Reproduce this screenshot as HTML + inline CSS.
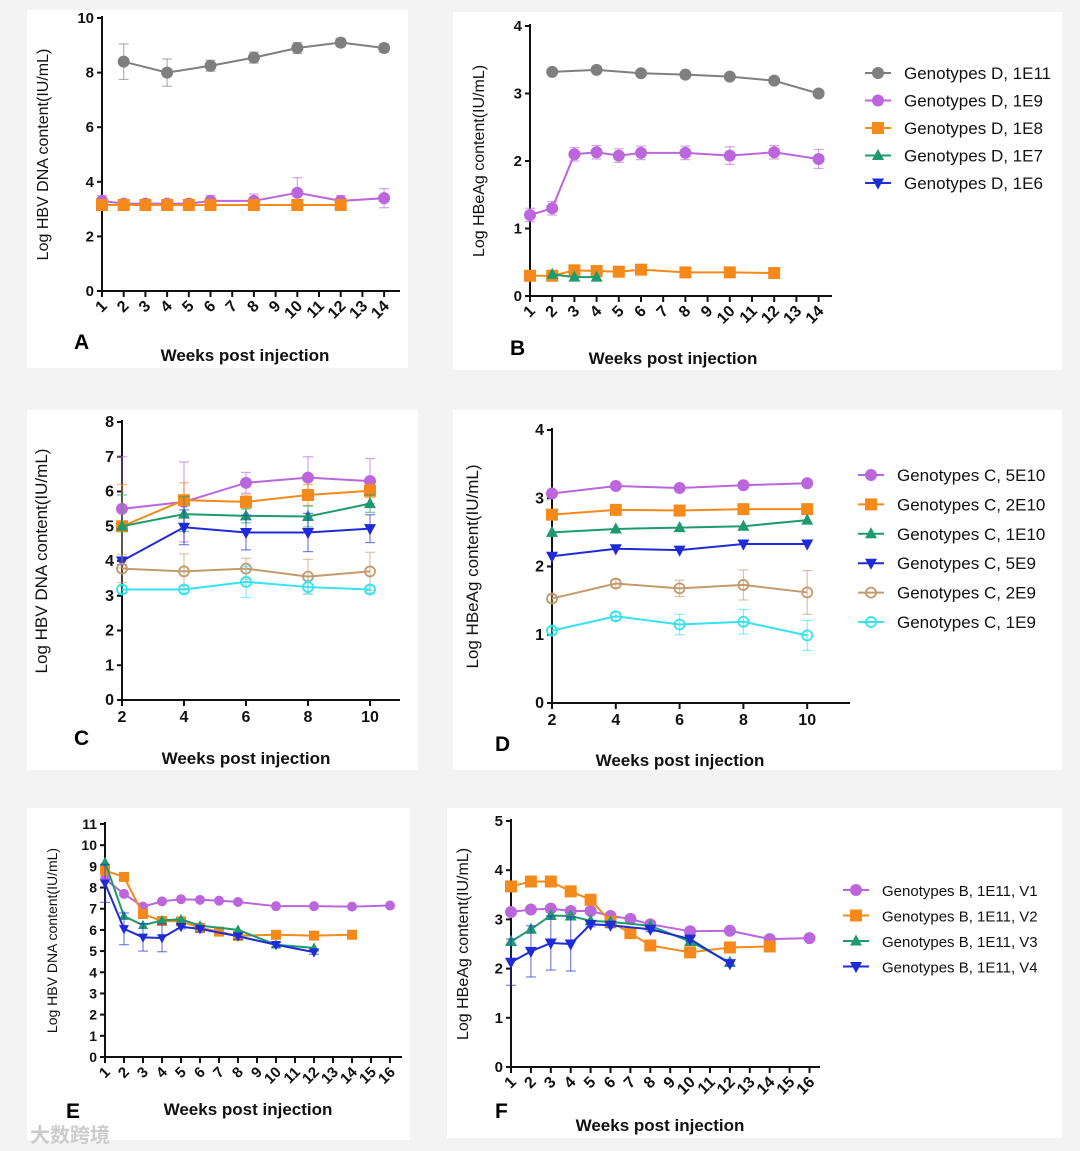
<!DOCTYPE html>
<html><head><meta charset="utf-8"><style>
body{margin:0;background:#f3f3f3;}
svg{display:block;font-family:"Liberation Sans","Noto Sans CJK SC",sans-serif;}
</style></head><body>
<svg id="fig" width="1080" height="1151" viewBox="0 0 1080 1151" xmlns="http://www.w3.org/2000/svg">
<rect x="0" y="0" width="1080" height="1151" fill="#f3f3f3"/>
<rect x="27" y="10" width="381" height="358" fill="#fff"/>
<rect x="453" y="12" width="609" height="358" fill="#fff"/>
<rect x="27" y="410" width="391" height="360" fill="#fff"/>
<rect x="453" y="410" width="609" height="360" fill="#fff"/>
<rect x="27" y="808" width="383" height="332" fill="#fff"/>
<rect x="447" y="808" width="615" height="330" fill="#fff"/>
<text x="30" y="1142" font-size="20" fill="#cccccc" font-weight="bold">大数跨境</text>
</svg>
<script>
// Panel A: HBV DNA, genotype D
const aWeeks1E11=[2,4,6,8,10,12,14];
const aVals1E11=[8.4,8.0,8.25,8.55,8.9,9.1,8.9];
const aErr1E11=[0.65,0.5,0.2,0.2,0.2,0.15,0.15];
const aWeeks1E9=[1,2,3,4,5,6,8,10,12,14];
const aVals1E9=[3.3,3.2,3.2,3.2,3.2,3.3,3.3,3.6,3.3,3.4];
const aErr1E9=[0.2,0.1,0.1,0.1,0.1,0.2,0.25,0.55,0.2,0.35];
const aWeeks1E8=[1,2,3,4,5,6,8,10,12];
const aVals1E8=[3.15,3.15,3.15,3.15,3.15,3.15,3.15,3.15,3.15];
// Panel B: HBeAg, genotype D
const bWeeks1E11=[2,4,6,8,10,12,14];
const bVals1E11=[3.32,3.35,3.3,3.28,3.25,3.19,3.0];
const bWeeks1E9=[1,2,3,4,5,6,8,10,12,14];
const bVals1E9=[1.2,1.3,2.1,2.13,2.08,2.12,2.12,2.08,2.13,2.03];
const bErr1E9=[0.1,0.1,0.1,0.1,0.1,0.1,0.1,0.13,0.1,0.14];
const bWeeks1E8=[1,2,3,4,5,6,8,10,12];
const bVals1E8=[0.3,0.3,0.38,0.37,0.36,0.39,0.35,0.35,0.34];
const bWeeks1E7=[2,3,4];
const bVals1E7=[0.32,0.28,0.28];
// Panel C: HBV DNA, genotype C
const cWeeks=[2,4,6,8,10];
const c5E10=[5.5,5.7,6.25,6.4,6.3];
const c5E10Err=[1.5,1.15,0.3,0.6,0.65];
const c2E10=[5.0,5.75,5.7,5.9,6.02];
const c2E10Err=[1.2,0.5,0.2,0.3,0.2];
const c1E10=[5.0,5.35,5.3,5.28,5.65];
const c1E10Err=[0.9,0.5,0.2,0.3,0.25];
const c5E9=[4.0,4.97,4.82,4.82,4.93];
const c5E9Err=[0.1,0.5,0.5,0.55,0.4];
const c2E9=[3.78,3.7,3.78,3.55,3.7];
const c2E9Err=[0.4,0.5,0.3,0.5,0.55];
const c1E9=[3.18,3.18,3.4,3.25,3.18];
const c1E9Err=[0.1,0.1,0.45,0.2,0.1];
// Panel D: HBeAg, genotype C
const dWeeks=[2,4,6,8,10];
const d5E10=[3.07,3.18,3.15,3.19,3.22];
const d2E10=[2.76,2.83,2.82,2.84,2.84];
const d1E10=[2.5,2.55,2.57,2.59,2.68];
const d5E9=[2.15,2.26,2.24,2.33,2.33];
const d2E9=[1.53,1.75,1.68,1.73,1.62];
const d2E9Err=[0.05,0.06,0.12,0.22,0.32];
const d1E9=[1.06,1.27,1.15,1.19,0.99];
const d1E9Err=[0.05,0.06,0.15,0.18,0.22];
// Panel E: HBV DNA, genotype B
const eWeeksV1=[1,2,3,4,5,6,7,8,10,12,14,16];
const eV1=[8.4,7.7,7.1,7.35,7.45,7.42,7.38,7.32,7.12,7.12,7.1,7.15];
const eWeeksV2=[1,2,3,4,5,6,7,8,10,12,14];
const eV2=[8.8,8.5,6.75,6.42,6.4,6.1,5.92,5.72,5.77,5.73,5.77];
const eWeeksV3=[1,2,3,4,5,6,8,10,12];
const eV3=[9.2,6.65,6.22,6.45,6.5,6.2,6.0,5.3,5.15];
const eWeeksV4=[1,2,3,4,5,6,8,10,12];
const eV4=[8.2,6.05,5.65,5.62,6.15,6.05,5.7,5.3,4.95];
const eV4Err=[0.9,0.75,0.65,0.65,0.1,0.15,0.15,0.1,0.1];
// Panel F: HBeAg, genotype B
const fWeeksV1=[1,2,3,4,5,6,7,8,10,12,14,16];
const fV1=[3.15,3.2,3.22,3.17,3.17,3.07,3.01,2.9,2.76,2.77,2.6,2.62];
const fWeeksV2=[1,2,3,4,5,6,7,8,10,12,14];
const fV2=[3.67,3.77,3.77,3.57,3.4,2.95,2.72,2.47,2.33,2.43,2.45];
const fWeeksV3=[1,2,3,4,5,6,8,10,12];
const fV3=[2.55,2.8,3.08,3.07,2.97,2.95,2.87,2.55,2.13];
const fWeeksV4=[1,2,3,4,5,6,8,10,12];
const fV4=[2.13,2.35,2.52,2.5,2.9,2.88,2.8,2.6,2.1];
const fV4Err=[0.47,0.52,0.55,0.55,0.05,0.05,0.05,0.05,0.05];

const NS='http://www.w3.org/2000/svg';
const svg=document.getElementById('fig');
const COL={gray:'#7f7f7f',purple:'#bb66dd',orange:'#f5891a',green:'#1e9a6e',blue:'#1f2bd6',brown:'#c49a6c',cyan:'#33e3ee'};
function el(tag,attrs,parent){const e=document.createElementNS(NS,tag);for(const k in attrs)e.setAttribute(k,attrs[k]);(parent||svg).appendChild(e);return e;}
function marker(g,shape,x,y,c,s){
  let m;
  if(shape==='circle')m=el('circle',{cx:x,cy:y,r:s,fill:c},g);
  else if(shape==='ocircle')m=el('circle',{cx:x,cy:y,r:s-1,fill:'none',stroke:c,'stroke-width':1.8},g);
  else if(shape==='square')m=el('rect',{x:x-s,y:y-s,width:2*s,height:2*s,fill:c},g);
  else if(shape==='tri')m=el('polygon',{points:`${x},${y-s*1.1} ${x-s},${y+s*0.75} ${x+s},${y+s*0.75}`,fill:c},g);
  else m=el('polygon',{points:`${x},${y+s*1.1} ${x-s},${y-s*0.75} ${x+s},${y-s*0.75}`,fill:c},g);
  
  
}
function panel(p){
  const g=el('g',{});
  
  
  const X=w=>p.x0+(w-p.w0)*p.dx;
  const Y=v=>p.y0-(v)*(p.y0-p.yTop)/p.yMax;
  const ya=el('line',{x1:p.x0,y1:p.yTop-2,x2:p.x0,y2:p.y0,stroke:'#111','stroke-width':2},g);
  
  const xa=el('line',{x1:p.x0,y1:p.y0,x2:p.xEnd,y2:p.y0,stroke:'#111','stroke-width':2},g);
  
  for(let v=0;v<=p.yMax;v+=p.yStep){
    el('line',{x1:p.x0-5,y1:Y(v),x2:p.x0,y2:Y(v),stroke:'#111','stroke-width':2},g);
    const t=el('text',{x:p.x0-8,y:Y(v)+5,'text-anchor':'end','font-size':p.fs,'font-weight':'bold',fill:'#111'},g);
    t.textContent=v;
  }
  for(const w of p.xticks){
    el('line',{x1:X(w),y1:p.y0,x2:X(w),y2:p.y0+6,stroke:'#111','stroke-width':2},g);
    let t;
    if(p.rot){t=el('text',{x:X(w)+6,y:p.y0+16,'text-anchor':'end','font-size':p.fs+1,'font-weight':'bold',fill:'#111',transform:`rotate(-45 ${X(w)+6} ${p.y0+16})`},g);}
    else{t=el('text',{x:X(w),y:p.y0+22,'text-anchor':'middle','font-size':p.fs,'font-weight':'bold',fill:'#111'},g);}
    t.textContent=w;
  }
  const yt=el('text',{x:0,y:0,'text-anchor':'middle','font-size':p.yfs,fill:'#111',transform:`translate(${p.ytx},${(p.y0+p.yTop)/2}) rotate(-90)`},g);
  yt.textContent=p.ytitle;
  const xt=el('text',{x:p.xtx,y:p.xty,'text-anchor':'middle','font-size':17,'font-weight':'bold',fill:'#111'},g);
  xt.textContent='Weeks post injection';
  const lt=el('text',{x:p.lx,y:p.ly,'font-size':21,'font-weight':'bold',fill:'#000'},g);
  lt.textContent=p.id.toUpperCase();
  for(const s of p.series){
    const sg=el('g',{},g);
    
    
    const c=COL[s.color];
    if(s.err)s.w.forEach((w,i)=>{const e=s.err[i];if(!e)return;
      el('line',{x1:X(w),y1:Y(s.v[i]-e),x2:X(w),y2:Y(s.v[i]+e),stroke:c,'stroke-width':1.2,opacity:0.6},sg);
      el('line',{x1:X(w)-5,y1:Y(s.v[i]-e),x2:X(w)+5,y2:Y(s.v[i]-e),stroke:c,'stroke-width':1.2,opacity:0.6},sg);
      el('line',{x1:X(w)-5,y1:Y(s.v[i]+e),x2:X(w)+5,y2:Y(s.v[i]+e),stroke:c,'stroke-width':1.2,opacity:0.6},sg);});
    el('polyline',{points:s.w.map((w,i)=>X(w)+','+Y(s.v[i])).join(' '),fill:'none',stroke:c,'stroke-width':2},sg);
    s.w.forEach((w,i)=>marker(sg,s.shape,X(w),Y(s.v[i]),c,p.ms));
  }
  if(p.legend){
    p.series.forEach((s,i)=>{
      const y=p.legend.y+i*p.legend.dy;const x=p.legend.x;const c=COL[s.color];
      const lg=el('g',{},g);
      el('line',{x1:x-13,y1:y,x2:x+13,y2:y,stroke:c,'stroke-width':2},lg);
      marker(lg,s.shape,x,y,c,p.ms);
      const t=el('text',{x:x+26,y:y+6,'font-size':p.legend.fs,fill:'#111'},lg);t.textContent=s.name;
    });
  }
}
const w14=[1,2,3,4,5,6,7,8,9,10,11,12,13,14];
const w16=[1,2,3,4,5,6,7,8,9,10,11,12,13,14,15,16];
panel({id:'a',x0:102,w0:1,dx:21.7,xEnd:400,y0:291,yTop:18,yMax:10,yStep:2,xticks:w14,rot:true,fs:15,ms:6,
  ytitle:'Log HBV DNA content(IU/mL)',yfs:16,ytx:48,xtx:245,xty:361,lx:74,ly:349,
  series:[{name:'1E11',color:'gray',shape:'circle',w:aWeeks1E11,v:aVals1E11,err:aErr1E11},
          {name:'1E9',color:'purple',shape:'circle',w:aWeeks1E9,v:aVals1E9,err:aErr1E9},
          {name:'1E8',color:'orange',shape:'square',w:aWeeks1E8,v:aVals1E8}]});
panel({id:'b',x0:530,w0:1,dx:22.2,xEnd:832,y0:296,yTop:26,yMax:4,yStep:1,xticks:w14,rot:true,fs:15,ms:6,
  ytitle:'Log HBeAg content(IU/mL)',yfs:16,ytx:484,xtx:673,xty:364,lx:510,ly:355,
  legend:{x:878,y:73,dy:27.5,fs:17},
  series:[{name:'Genotypes D, 1E11',color:'gray',shape:'circle',w:bWeeks1E11,v:bVals1E11},
          {name:'Genotypes D, 1E9',color:'purple',shape:'circle',w:bWeeks1E9,v:bVals1E9,err:bErr1E9},
          {name:'Genotypes D, 1E8',color:'orange',shape:'square',w:bWeeks1E8,v:bVals1E8},
          {name:'Genotypes D, 1E7',color:'green',shape:'tri',w:bWeeks1E7,v:bVals1E7},
          {name:'Genotypes D, 1E6',color:'blue',shape:'tridown',w:[],v:[]}]});
panel({id:'c',x0:122,w0:2,dx:31,xEnd:400,y0:700,yTop:422,yMax:8,yStep:1,xticks:[2,4,6,8,10],rot:false,fs:16,ms:6,
  ytitle:'Log HBV DNA  content(IU/mL)',yfs:17,ytx:47,xtx:246,xty:764,lx:74,ly:745,
  series:[{name:'5E10',color:'purple',shape:'circle',w:cWeeks,v:c5E10,err:c5E10Err},
          {name:'2E10',color:'orange',shape:'square',w:cWeeks,v:c2E10,err:c2E10Err},
          {name:'1E10',color:'green',shape:'tri',w:cWeeks,v:c1E10,err:c1E10Err},
          {name:'5E9',color:'blue',shape:'tridown',w:cWeeks,v:c5E9,err:c5E9Err},
          {name:'2E9',color:'brown',shape:'ocircle',w:cWeeks,v:c2E9,err:c2E9Err},
          {name:'1E9',color:'cyan',shape:'ocircle',w:cWeeks,v:c1E9,err:c1E9Err}]});
panel({id:'d',x0:552,w0:2,dx:31.9,xEnd:850,y0:703,yTop:430,yMax:4,yStep:1,xticks:[2,4,6,8,10],rot:false,fs:16,ms:6,
  ytitle:'Log HBeAg content(IU/mL)',yfs:17,ytx:478,xtx:680,xty:766,lx:495,ly:751,
  legend:{x:871,y:475,dy:29.4,fs:17},
  series:[{name:'Genotypes C, 5E10',color:'purple',shape:'circle',w:dWeeks,v:d5E10},
          {name:'Genotypes C, 2E10',color:'orange',shape:'square',w:dWeeks,v:d2E10},
          {name:'Genotypes C, 1E10',color:'green',shape:'tri',w:dWeeks,v:d1E10},
          {name:'Genotypes C, 5E9',color:'blue',shape:'tridown',w:dWeeks,v:d5E9},
          {name:'Genotypes C, 2E9',color:'brown',shape:'ocircle',w:dWeeks,v:d2E9,err:d2E9Err},
          {name:'Genotypes C, 1E9',color:'cyan',shape:'ocircle',w:dWeeks,v:d1E9,err:d1E9Err}]});
panel({id:'e',x0:105,w0:1,dx:19,xEnd:402,y0:1057,yTop:824,yMax:11,yStep:1,xticks:w16,rot:true,fs:14,ms:5,
  ytitle:'Log HBV DNA content(IU/mL)',yfs:14,ytx:57,xtx:248,xty:1115,lx:66,ly:1118,
  series:[{name:'V1',color:'purple',shape:'circle',w:eWeeksV1,v:eV1},
          {name:'V2',color:'orange',shape:'square',w:eWeeksV2,v:eV2},
          {name:'V3',color:'green',shape:'tri',w:eWeeksV3,v:eV3},
          {name:'V4',color:'blue',shape:'tridown',w:eWeeksV4,v:eV4,err:eV4Err}]});
panel({id:'f',x0:511,w0:1,dx:19.9,xEnd:820,y0:1067,yTop:821,yMax:5,yStep:1,xticks:w16,rot:true,fs:15,ms:6,
  ytitle:'Log HBeAg content(IU/mL)',yfs:16,ytx:468,xtx:660,xty:1131,lx:495,ly:1118,
  legend:{x:856,y:890,dy:25.5,fs:15},
  series:[{name:'Genotypes B, 1E11, V1',color:'purple',shape:'circle',w:fWeeksV1,v:fV1},
          {name:'Genotypes B, 1E11, V2',color:'orange',shape:'square',w:fWeeksV2,v:fV2},
          {name:'Genotypes B, 1E11, V3',color:'green',shape:'tri',w:fWeeksV3,v:fV3},
          {name:'Genotypes B, 1E11, V4',color:'blue',shape:'tridown',w:fWeeksV4,v:fV4,err:fV4Err}]});
</script>
</body></html>
